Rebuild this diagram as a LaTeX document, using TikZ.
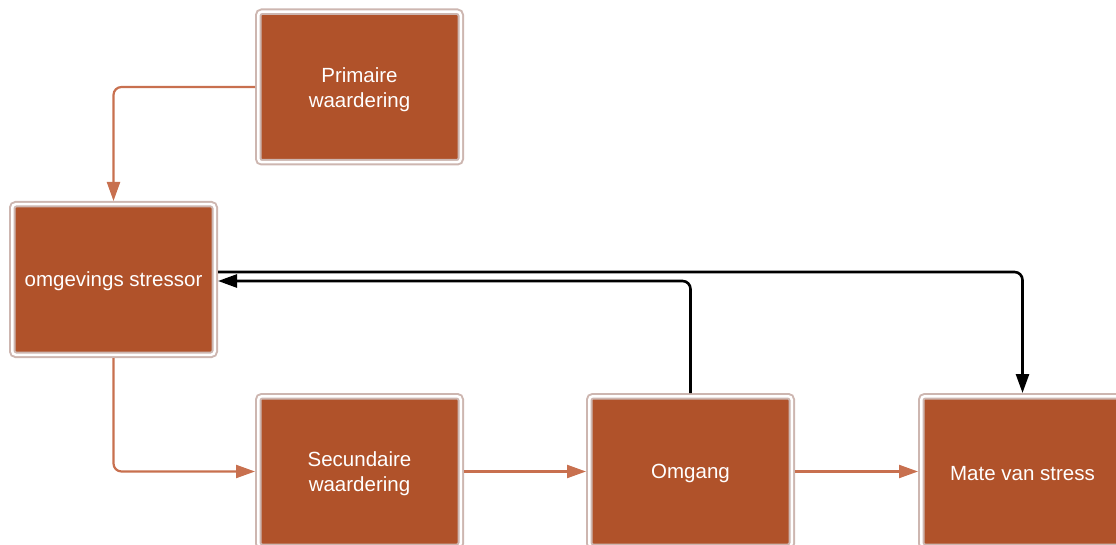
\documentclass[tikz,border=0pt]{standalone}
\usepackage{fontspec}
\setmainfont{Liberation Sans}
\usetikzlibrary{arrows.meta}
\definecolor{boxbrown}{HTML}{B0522A}
\definecolor{framecol}{HTML}{CDB6B0}
\definecolor{linkcol}{HTML}{C8704F}
\tikzset{
  stagebox/.style={rectangle, fill=boxbrown, draw=framecol, double=white,
    double distance=2.5pt, line width=2pt, rounded corners=3.5pt,
    minimum width=202.5pt, minimum height=150.5pt, outer sep=3.25pt,
    text=white, align=center, font=\fontsize{20.5}{25}\selectfont},
  flow/.style={draw=linkcol, line width=2.2pt, rounded corners=8pt,
    -{Triangle[length=19pt,width=13pt]}},
  feedback/.style={draw=black, line width=2.6pt, rounded corners=8pt,
    -{Triangle[length=19pt,width=13pt]}}
}
\begin{document}
\begin{tikzpicture}[x=1pt, y=-1pt]
  \useasboundingbox (0,0) rectangle (1116,545);
  \clip (0,0) rectangle (1116,545);

  % stages of the stress model
  \node[stagebox] (prim)   at (359.5,87)    {};
  \node[stagebox] (omg)    at (113.5,279.5) {};
  \node[stagebox] (sec)    at (359.5,471.5) {};
  \node[stagebox] (omgang) at (690.5,471.5) {};
  \node[stagebox] (mate)   at (1022.5,471.5) {};

  % stage labels, set slightly below the box centres
  \node[text=white, align=center, font=\fontsize{20.5}{25}\selectfont] (primtxt) at ([yshift=-3pt]prim.center) {Primaire\\waardering};
  \node[text=white, font=\fontsize{20.5}{25}\selectfont] (omgtxt) at ([yshift=-2pt]omg.center) {omgevings stressor};
  \node[text=white, align=center, font=\fontsize{20.5}{25}\selectfont] (sectxt) at ([yshift=-2pt]sec.center) {Secundaire\\waardering};
  \node[text=white, font=\fontsize{20.5}{25}\selectfont] (omgangtxt) at ([yshift=-2pt]omgang.center) {Omgang};
  \node[text=white, font=\fontsize{20.5}{25}\selectfont] (matetxt) at ([yshift=-2pt]mate.center) {Mate van stress};

  % forward flow
  \draw[flow] (prim.west) -| (omg.north);
  \draw[flow] (omg.south) |- (sec.west);
  \draw[flow] (sec.east) -- (omgang.west);
  \draw[flow] (omgang.east) -- (mate.west);

  % feedback loops
  \draw[feedback] (omgang.north) |- ([yshift=-1.5pt]omg.east);
  \draw[feedback] ([yshift=7.5pt]omg.east) -| (mate.north);
\end{tikzpicture}
\end{document}
